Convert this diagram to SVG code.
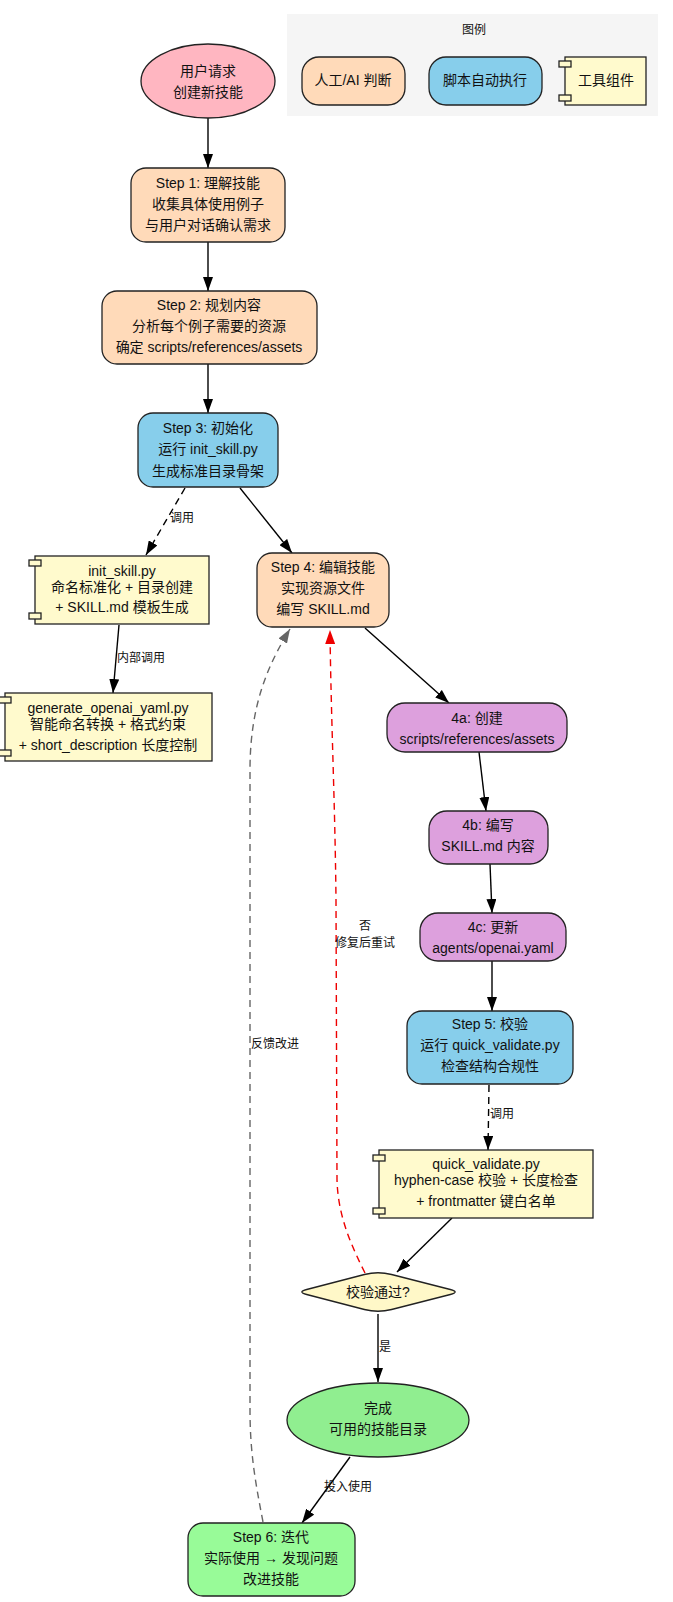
<svg xmlns="http://www.w3.org/2000/svg" width="673" height="1602" viewBox="0 0 673 1602">
<style>
text{font-family:"Liberation Sans","Noto Sans CJK SC",sans-serif;fill:#111}
.t{font-size:14px;text-anchor:middle}
.l{font-size:12px}
.lc{font-size:12px;text-anchor:middle}
.b{stroke:#222;stroke-width:1.3}
.peach{fill:#FFDAB9}
.blue{fill:#87CEEB}
.yel{fill:#FFFACD}
.pur{fill:#DDA0DD}
.e{fill:none;stroke:#000;stroke-width:1.4}
.d{stroke-dasharray:7,5}
</style>
<defs>
<marker id="ah" markerUnits="userSpaceOnUse" markerWidth="14" markerHeight="10" refX="14" refY="5" orient="auto"><path d="M0,0 L14,5 L0,10 z" fill="#000"/></marker>
<marker id="ahg" markerUnits="userSpaceOnUse" markerWidth="14" markerHeight="10" refX="14" refY="5" orient="auto"><path d="M0,0 L14,5 L0,10 z" fill="#666"/></marker>
<marker id="ahr" markerUnits="userSpaceOnUse" markerWidth="14" markerHeight="10" refX="14" refY="5" orient="auto"><path d="M0,0 L14,5 L0,10 z" fill="#e00"/></marker>
</defs>
<rect width="673" height="1602" fill="#fff"/>

<g id="legend">
<rect x="287" y="14" width="371" height="102" fill="#f5f5f5"/>
<text class="lc" x="474" y="34">图例</text>
<rect class="b peach" x="302" y="57" width="103" height="48" rx="17"/>
<text class="t" x="353" y="85">人工/AI 判断</text>
<rect class="b blue" x="429" y="57" width="113" height="48" rx="17"/>
<text class="t" x="485" y="85">脚本自动执行</text>
<rect class="b yel" x="565" y="57" width="81" height="48"/>
<rect class="b yel" x="559" y="61" width="12" height="6"/>
<rect class="b yel" x="559" y="95" width="12" height="6"/>
<text class="t" x="606" y="85">工具组件</text>
</g>

<g id="edges">
<path class="e" d="M208,118 L208,168" marker-end="url(#ah)"/>
<path class="e" d="M208,242 L208,291" marker-end="url(#ah)"/>
<path class="e" d="M208,364 L208,413" marker-end="url(#ah)"/>
<path class="e d" d="M185,488 L146,555" marker-end="url(#ah)"/>
<text class="l" x="170" y="522">调用</text>
<path class="e" d="M240,488 L292,553" marker-end="url(#ah)"/>
<path class="e" d="M119,625 L113,693" marker-end="url(#ah)"/>
<text class="l" x="117" y="662">内部调用</text>
<path class="e" d="M365,628 L449,703" marker-end="url(#ah)"/>
<path class="e" d="M479,752 L486,811" marker-end="url(#ah)"/>
<path class="e" d="M490,864 L492,913" marker-end="url(#ah)"/>
<path class="e" d="M492,961 L492,1011" marker-end="url(#ah)"/>
<path class="e d" d="M489,1085 L488,1150" marker-end="url(#ah)"/>
<text class="l" x="490" y="1118">调用</text>
<path class="e" d="M452,1218 L397,1272" marker-end="url(#ah)"/>
<path class="e" d="M378,1314 L378,1382" marker-end="url(#ah)"/>
<text class="l" x="379" y="1351">是</text>
<path class="e" d="M350,1457 L302,1523" marker-end="url(#ah)"/>
<text class="l" x="324" y="1491">投入使用</text>
<path class="e d" style="stroke:#e00" d="M365,1273 C350,1243 338,1215 337,1180 L336,900 C335,800 331,720 330,630" marker-end="url(#ahr)"/>
<text class="lc" x="365" y="930">否</text>
<text class="lc" x="365" y="947">修复后重试</text>
<path class="e d" style="stroke:#666" d="M263,1522 C256,1485 250,1455 250,1410 L250,770 C250,705 268,665 290,629" marker-end="url(#ahg)"/>
<text class="l" x="251" y="1048">反馈改进</text>
</g>

<g id="start">
<ellipse class="b" cx="208" cy="81" rx="67" ry="37" fill="#FFB6C1"/>
<text class="t" x="208" y="76">用户请求</text>
<text class="t" x="208" y="97">创建新技能</text>
</g>

<g id="step1">
<rect class="b peach" x="131" y="168" width="154" height="74" rx="15"/>
<text class="t" x="208" y="188">Step 1: 理解技能</text>
<text class="t" x="208" y="209">收集具体使用例子</text>
<text class="t" x="208" y="230">与用户对话确认需求</text>
</g>

<g id="step2">
<rect class="b peach" x="102" y="291" width="215" height="73" rx="15"/>
<text class="t" x="209" y="310">Step 2: 规划内容</text>
<text class="t" x="209" y="331">分析每个例子需要的资源</text>
<text class="t" x="209" y="352">确定 scripts/references/assets</text>
</g>

<g id="step3">
<rect class="b blue" x="138" y="413" width="140" height="74" rx="15"/>
<text class="t" x="208" y="433">Step 3: 初始化</text>
<text class="t" x="208" y="454">运行 init_skill.py</text>
<text class="t" x="208" y="476">生成标准目录骨架</text>
</g>

<g id="init_skill">
<rect class="b yel" x="35" y="556" width="174" height="68"/>
<rect class="b yel" x="29" y="560" width="12" height="6"/>
<rect class="b yel" x="29" y="613" width="12" height="6"/>
<text class="t" x="122" y="576">init_skill.py</text>
<text class="t" x="122" y="592">命名标准化 + 目录创建</text>
<text class="t" x="122" y="612">+ SKILL.md 模板生成</text>
</g>

<g id="generate">
<rect class="b yel" x="5" y="693" width="207" height="68"/>
<rect class="b yel" x="-1" y="697" width="12" height="6"/>
<rect class="b yel" x="-1" y="750" width="12" height="6"/>
<text class="t" x="108" y="713">generate_openai_yaml.py</text>
<text class="t" x="108" y="729">智能命名转换 + 格式约束</text>
<text class="t" x="108" y="750">+ short_description 长度控制</text>
</g>

<g id="step4">
<rect class="b peach" x="257" y="553" width="132" height="74" rx="15"/>
<text class="t" x="323" y="572">Step 4: 编辑技能</text>
<text class="t" x="323" y="593">实现资源文件</text>
<text class="t" x="323" y="614">编写  SKILL.md</text>
</g>

<g id="step4a">
<rect class="b pur" x="387" y="703" width="180" height="49" rx="18"/>
<text class="t" x="477" y="723">4a: 创建</text>
<text class="t" x="477" y="744">scripts/references/assets</text>
</g>

<g id="step4b">
<rect class="b pur" x="429" y="811" width="119" height="53" rx="18"/>
<text class="t" x="488" y="830">4b: 编写</text>
<text class="t" x="488" y="851">SKILL.md 内容</text>
</g>

<g id="step4c">
<rect class="b pur" x="420" y="913" width="146" height="48" rx="18"/>
<text class="t" x="493" y="932">4c: 更新</text>
<text class="t" x="493" y="953">agents/openai.yaml</text>
</g>

<g id="step5">
<rect class="b blue" x="407" y="1011" width="166" height="73" rx="15"/>
<text class="t" x="490" y="1029">Step 5: 校验</text>
<text class="t" x="490" y="1050">运行 quick_validate.py</text>
<text class="t" x="490" y="1071">检查结构合规性</text>
</g>

<g id="quick_validate">
<rect class="b yel" x="379" y="1150" width="214" height="68"/>
<rect class="b yel" x="373" y="1155" width="12" height="6"/>
<rect class="b yel" x="373" y="1208" width="12" height="6"/>
<text class="t" x="486" y="1169">quick_validate.py</text>
<text class="t" x="486" y="1185">hyphen-case 校验 + 长度检查</text>
<text class="t" x="486" y="1206">+ frontmatter 键白名单</text>
</g>

<g id="decision">
<path class="b" fill="#FFF8C8" d="M364.4,1274.5 Q378,1271 391.6,1274.5 L450.3,1289.5 Q460,1292 450.3,1294.5 L391.6,1309.5 Q378,1313 364.4,1309.5 L306.7,1294.5 Q297,1292 306.7,1289.5 Z"/>
<text class="t" x="378" y="1297">校验通过?</text>
</g>

<g id="finish">
<ellipse class="b" cx="378" cy="1420" rx="91" ry="37" fill="#90EE90"/>
<text class="t" x="378" y="1413">完成</text>
<text class="t" x="378" y="1434">可用的技能目录</text>
</g>

<g id="step6">
<rect class="b" fill="#98FB98" x="188" y="1523" width="167" height="73" rx="15"/>
<text class="t" x="271" y="1542">Step 6: 迭代</text>
<text class="t" x="271" y="1563">实际使用 → 发现问题</text>
<text class="t" x="271" y="1584">改进技能</text>
</g>
</svg>
